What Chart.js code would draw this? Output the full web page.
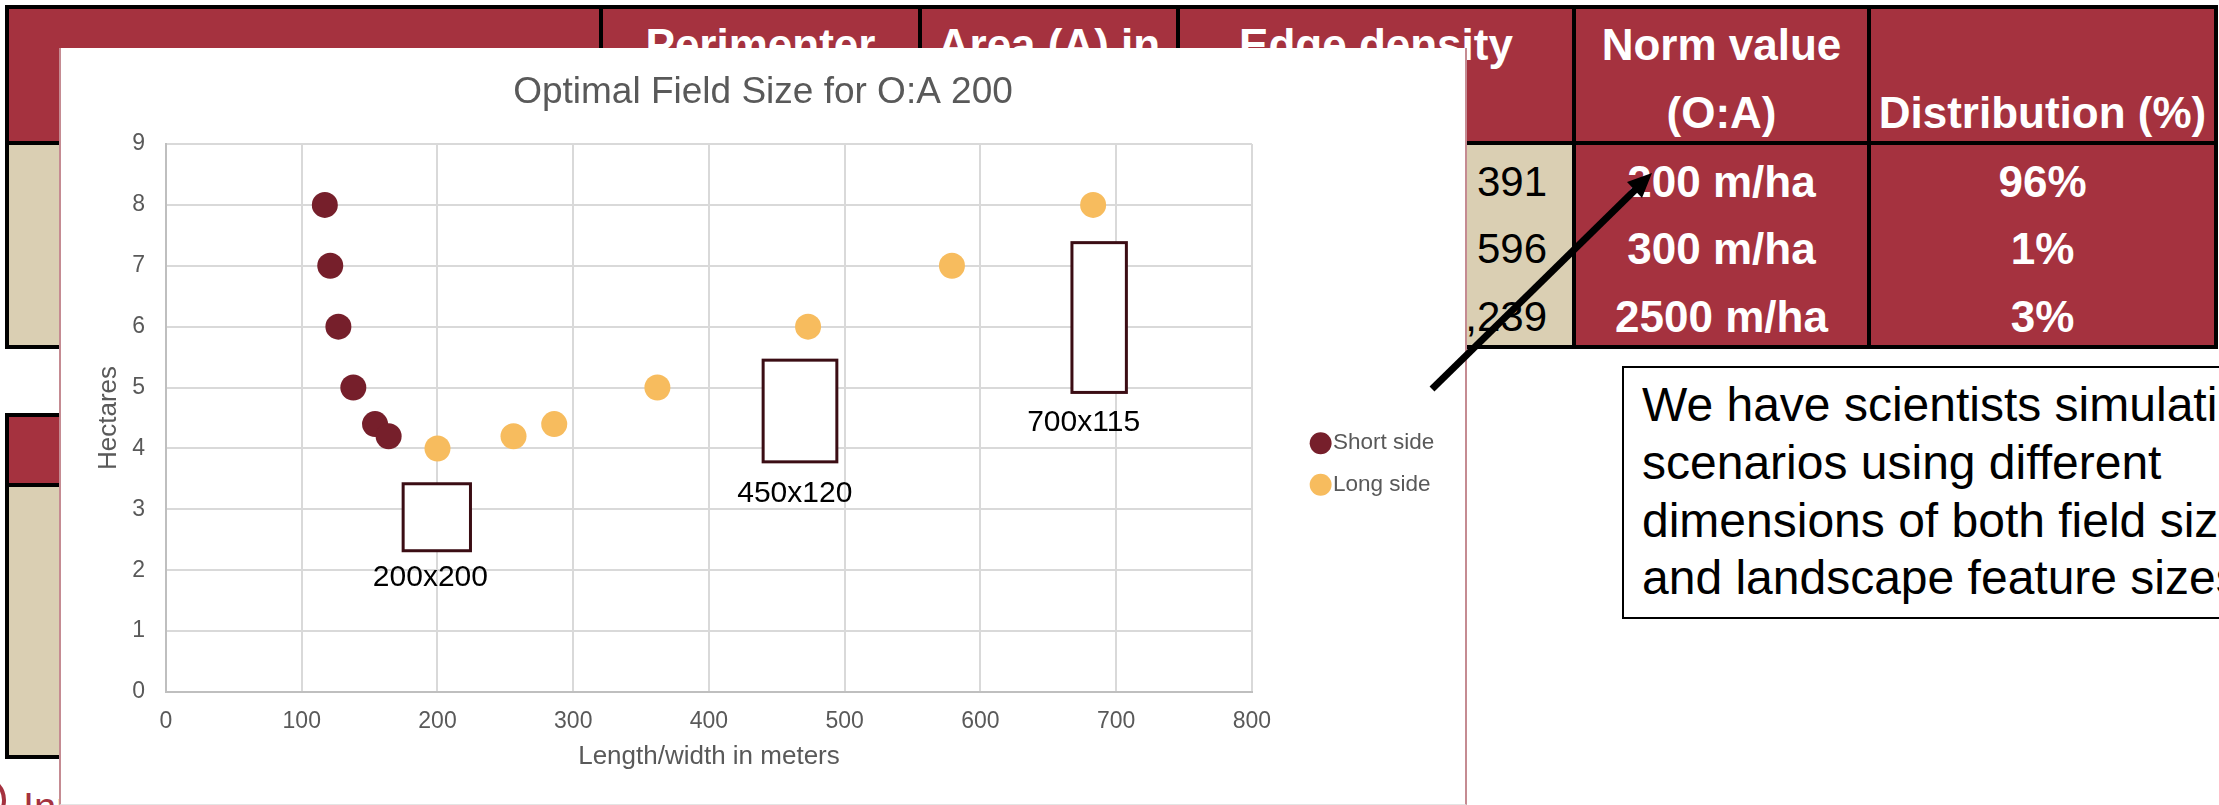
<!DOCTYPE html>
<html>
<head>
<meta charset="utf-8">
<script src="https://cdn.jsdelivr.net/npm/chart.js@4.4.0/dist/chart.umd.min.js"></script>
<style>
    html, body { margin: 0; padding: 0; }
    body {
        width: 2219px; height: 805px; overflow: hidden; position: relative;
        background: #fff; font-family: 'Liberation Sans', Arial, sans-serif;
    }
    .box { position: absolute; }
    .blk { background: #000; }
    .red { background: #a5323f; }
    .beige { background: #dacfb3; }
    .hd {
        position: absolute; color: #fff; font-weight: bold; font-size: 44px;
        line-height: 68px; text-align: center; white-space: nowrap;
    }
    .cell {
        position: absolute; font-size: 44px; line-height: 67.5px;
        white-space: nowrap; text-align: center;
    }
    #panel {
        position: absolute; left: 59px; top: 48px; width: 1408px; height: 757px;
        box-sizing: border-box; background: #fff;
        border-left: 2px solid #c58b92; border-right: 2px solid #c58b92;
        border-bottom: 1px solid #e4e4e4;
    }
    #note {
        position: absolute; left: 1622px; top: 366px; width: 720px; height: 253px;
        box-sizing: border-box; border: 2px solid #000; background: #fff;
    }
    #note div {
        position: absolute; left: 18px; top: 8px; font-size: 48px; line-height: 57.8px;
        white-space: nowrap; color: #000;
    }
</style>
</head>
<body>

<!-- ---------- Üst tablo ---------- -->
<div class="box blk" style="left:5px;top:5px;width:2213px;height:344px"></div>
<div class="box red" style="left:9px;top:9px;width:590px;height:132px"></div>
<div class="box red" style="left:603px;top:9px;width:315px;height:132px"></div>
<div class="box red" style="left:922px;top:9px;width:254px;height:132px"></div>
<div class="box red" style="left:1180px;top:9px;width:392px;height:132px"></div>
<div class="box red" style="left:1576px;top:9px;width:291px;height:132px"></div>
<div class="box red" style="left:1871px;top:9px;width:343px;height:132px"></div>
<div class="box beige" style="left:9px;top:145px;width:590px;height:200px"></div>
<div class="box beige" style="left:603px;top:145px;width:315px;height:200px"></div>
<div class="box beige" style="left:922px;top:145px;width:254px;height:200px"></div>
<div class="box beige" style="left:1180px;top:145px;width:392px;height:200px"></div>
<div class="box red" style="left:1576px;top:145px;width:291px;height:200px"></div>
<div class="box red" style="left:1871px;top:145px;width:343px;height:200px"></div>

<div class="hd" style="left:603px;top:11px;width:315px">Perimenter</div>
<div class="hd" style="left:922px;top:11px;width:254px">Area (A) in</div>
<div class="hd" style="left:1180px;top:11px;width:392px">Edge density</div>
<div class="hd" style="left:1576px;top:11px;width:291px">Norm value<br>(O:A)</div>
<div class="hd" style="left:1871px;top:11px;width:343px">&nbsp;<br>Distribution (%)</div>

<div class="cell" style="left:1180px;top:147.5px;width:367px;text-align:right;font-size:42px;color:#000">391<br>596<br>1,239</div>
<div class="cell" style="left:1576px;top:147.5px;width:291px;color:#fff;font-weight:bold">200 m/ha<br>300 m/ha<br>2500 m/ha</div>
<div class="cell" style="left:1871px;top:147.5px;width:343px;color:#fff;font-weight:bold">96%<br>1%<br>3%</div>

<!-- ---------- Alt tablo (kısmen görünür) ---------- -->
<div class="box blk" style="left:5px;top:413px;width:700px;height:346px"></div>
<div class="box red" style="left:9px;top:417px;width:692px;height:66px"></div>
<div class="box beige" style="left:9px;top:487px;width:692px;height:268px"></div>
<div class="box" style="left:-42px;top:776px;width:48px;height:48px;box-sizing:border-box;border:4px solid #a5323f;border-radius:50%"></div>
<div class="box" style="left:23px;top:787px;font-size:40px;line-height:40px;color:#a5323f;white-space:nowrap">Inn</div>

<!-- ---------- Metin kutusu ---------- -->
<div id="note"><div>We have scientists simulating<br>scenarios using different<br>dimensions of both field sizes<br>and landscape feature sizes</div></div>

<!-- ---------- Grafik paneli ---------- -->
<div id="panel"><canvas id="fieldChart" width="1404" height="756"></canvas></div>

<!-- ---------- Ok ---------- -->
<svg class="box" style="left:0;top:0" width="2219" height="805">
    <line x1="1432" y1="389" x2="1636" y2="189" stroke="#000" stroke-width="7"/>
    <polygon points="1652,173 1642,198 1627,182" fill="#000"/>
</svg>

<script>
/* ---------- Veri ---------- */
const shortSideX = [117, 121, 127, 138, 154, 164];
const shortSideY = [8, 7, 6, 5, 4.4, 4.2];
const longSideX = [200, 256, 286, 362, 473, 579, 683];
const longSideY = [4, 4.2, 4.4, 5, 6, 7, 8];
const seriesNames = ['Short side', 'Long side'];

// Tarla şekli kutuları (veri koordinatları) ve etiketleri
const shapeLabels = ['200x200', '450x120', '700x115'];
const shapeX0 = [174.7, 439.9, 667.4];
const shapeX1 = [224.3, 494.2, 707.5];
const shapeY0 = [2.32, 3.78, 4.92];
const shapeY1 = [3.42, 5.45, 7.38];
const labelX = [194.8, 463.2, 676];
const labelY = [1.875, 3.26, 4.43];

const GREY = '#595959';
const RIGHT_PAD = 69.5;
Chart.defaults.font.family = "'Liberation Sans', Arial, sans-serif";
Chart.defaults.color = GREY;

const toPoints = (xs, ys) => xs.map((x, i) => ({ x: x, y: ys[i] }));

/* ---------- Eklentiler ---------- */
const fieldShapes = {
    id: 'fieldShapes',
    afterDraw(chart) {
        const { ctx, scales: { x, y } } = chart;
        ctx.save();
        shapeLabels.forEach((txt, i) => {
            const l = x.getPixelForValue(shapeX0[i]);
            const r = x.getPixelForValue(shapeX1[i]);
            const t = y.getPixelForValue(shapeY1[i]);
            const b = y.getPixelForValue(shapeY0[i]);
            ctx.fillStyle = '#fff';
            ctx.fillRect(l, t, r - l, b - t);
            ctx.strokeStyle = '#3b0d14';
            ctx.lineWidth = 3;
            ctx.strokeRect(l, t, r - l, b - t);
            ctx.fillStyle = '#000';
            ctx.font = "30px 'Liberation Sans', Arial, sans-serif";
            ctx.textAlign = 'center';
            ctx.textBaseline = 'middle';
            ctx.fillText(txt, x.getPixelForValue(labelX[i]), y.getPixelForValue(labelY[i]));
        });
        ctx.restore();
    }
};

// lejantı sağa/aşağı kaydır, başlığı tüm genişliğe ortala
const layoutNudge = {
    id: 'layoutNudge',
    afterLayout(chart) {
        const lg = chart.legend;
        lg.left += 48.7; lg.right += 48.7;
        lg.top += 38; lg.bottom += 38;
        if (chart.titleBlock) chart.titleBlock.right += RIGHT_PAD;
    }
};

/* ---------- Grafik ---------- */
new Chart(document.getElementById('fieldChart'), {
    type: 'scatter',
    data: {
        datasets: [
            { label: seriesNames[0], data: toPoints(shortSideX, shortSideY), backgroundColor: '#761f2b' },
            { label: seriesNames[1], data: toPoints(longSideX, longSideY), backgroundColor: '#f7bc5e' }
        ]
    },
    options: {
        responsive: false,
        animation: false,
        devicePixelRatio: 1,
        layout: { padding: { left: 0, right: RIGHT_PAD, top: 0, bottom: 0 } },
        elements: { point: { radius: 13, hoverRadius: 13, borderWidth: 0 } },
        plugins: {
            title: {
                display: true, text: 'Optimal Field Size for O:A 200', color: GREY,
                font: { size: 37, weight: 'normal' }, padding: { top: 22.5, bottom: 29.1 }
            },
            legend: {
                position: 'right', align: 'center',
                labels: {
                    usePointStyle: true, pointStyle: 'circle', boxWidth: 2, boxHeight: 15.5,
                    padding: 19, color: GREY, font: { size: 22.5 }
                }
            },
            tooltip: { enabled: false }
        },
        scales: {
            x: {
                type: 'linear', min: 0, max: 800,
                ticks: { stepSize: 100, padding: 16, color: GREY, font: { size: 23 } },
                grid: { color: '#d9d9d9', lineWidth: 2, drawTicks: false },
                border: { color: '#bfbfbf', width: 2 },
                title: { display: true, text: 'Length/width in meters', color: GREY, font: { size: 26 }, padding: { top: 0, bottom: 31.4 } },
                afterFit(s) { s.height = 112; }
            },
            y: {
                min: 0, max: 9,
                ticks: { stepSize: 1, padding: 21, color: GREY, font: { size: 23 } },
                grid: { color: '#d9d9d9', lineWidth: 2, drawTicks: false },
                border: { color: '#bfbfbf', width: 2 },
                title: { display: true, text: 'Hectares', color: GREY, font: { size: 26 }, padding: { top: 32.4, bottom: 0 } },
                afterFit(s) { s.width = 105; }
            }
        }
    },
    plugins: [fieldShapes, layoutNudge]
});
</script>
</body>
</html>
